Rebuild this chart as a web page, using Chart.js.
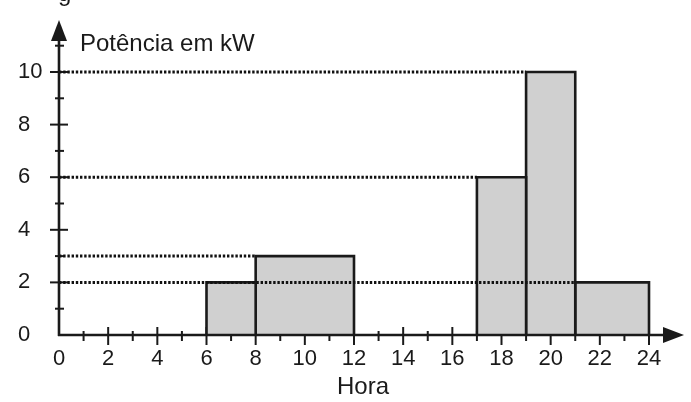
<!DOCTYPE html>
<html>
<head>
<meta charset="utf-8">
<script src="https://cdn.jsdelivr.net/npm/chart.js@4/dist/chart.umd.min.js"></script>
<style>
html,body{margin:0;padding:0;background:#fff;}
#wrap{width:691px;height:402px;position:relative;}
</style>
</head>
<body>
<div id="wrap"><canvas id="c" width="691" height="402"></canvas></div>
<script>
// ---- data ----
const barStarts = [6, 8, 17, 19, 21];
const barEnds   = [8, 12, 19, 21, 24];
const barValues = [2, 3, 6, 10, 2];
const guideLevels = [10, 6, 3, 2];
const guideEnds   = [19, 17, 8, 21];
const xTickValues = [0, 2, 4, 6, 8, 10, 12, 14, 16, 18, 20, 22, 24];
const yTickValues = [0, 2, 4, 6, 8, 10];
const yAxisTitle = 'Potência em kW';
const xAxisTitle = 'Hora';

const FONT = '"Liberation Sans", Arial, sans-serif';
const INK = '#1a1a1a';

const datasets = [];
guideLevels.forEach((lv, i) => {
  datasets.push({
    data: [{x: 0, y: lv}, {x: guideEnds[i], y: lv}],
    borderColor: '#111111', borderWidth: 3, borderDash: [2.4, 1.8],
    pointRadius: 0, fill: false, order: 0, clip: false
  });
});
barValues.forEach((v, i) => {
  datasets.push({
    data: [{x: barStarts[i], y: 0}, {x: barStarts[i], y: v}, {x: barEnds[i], y: v}, {x: barEnds[i], y: 0}],
    borderColor: INK, borderWidth: 2.6, backgroundColor: '#d0d0d0',
    pointRadius: 0, fill: 'origin', tension: 0, order: 1, clip: false
  });
});

const axesPlugin = {
  id: 'axesPlugin',
  beforeDatasetsDraw(chart) {
    const {ctx, scales: {x, y}} = chart;
    const x0 = x.getPixelForValue(0), y0 = y.getPixelForValue(0);
    ctx.save();
    ctx.strokeStyle = INK; ctx.lineWidth = 2;
    for (let v = 1; v <= 24; v++) {
      const px = x.getPixelForValue(v);
      const major = v % 2 === 0;
      ctx.beginPath();
      ctx.moveTo(px, y0 - (major ? 8 : 4));
      ctx.lineTo(px, y0 + (major ? 10 : 6));
      ctx.stroke();
    }
    for (let v = 1; v <= 11; v++) {
      const py = y.getPixelForValue(v);
      const major = v % 2 === 0;
      ctx.beginPath();
      ctx.moveTo(x0 - (major ? 9 : 4), py);
      ctx.lineTo(x0 + (major ? 9 : 5), py);
      ctx.stroke();
    }
    ctx.restore();
  },
  afterDatasetsDraw(chart) {
    const {ctx, scales: {x, y}} = chart;
    const x0 = x.getPixelForValue(0), y0 = y.getPixelForValue(0);
    ctx.save();
    ctx.strokeStyle = INK; ctx.fillStyle = INK; ctx.lineWidth = 2.6;
    ctx.beginPath();
    ctx.moveTo(x0, y0 + 1); ctx.lineTo(x0, 38);
    ctx.moveTo(x0 - 1, y0); ctx.lineTo(666, y0);
    ctx.stroke();
    ctx.beginPath();
    ctx.moveTo(x0, 20); ctx.lineTo(x0 - 8, 41); ctx.lineTo(x0 + 8, 41); ctx.closePath(); ctx.fill();
    ctx.beginPath();
    ctx.moveTo(684, y0); ctx.lineTo(663, y0 - 8); ctx.lineTo(663, y0 + 8); ctx.closePath(); ctx.fill();
    ctx.font = '24px ' + FONT;
    ctx.textBaseline = 'middle';
    ctx.textAlign = 'left';
    ctx.fillText(yAxisTitle, 80, 44);
    ctx.textAlign = 'center';
    ctx.fillText(xAxisTitle, 363, 387);
    ctx.textBaseline = 'alphabetic';
    ctx.textAlign = 'left';
    ctx.fillText('g', 58, 1);
    ctx.restore();
  }
};

new Chart(document.getElementById('c'), {
  type: 'line',
  data: {datasets},
  options: {
    responsive: false,
    animation: false,
    events: [],
    layout: {padding: {left: 18, right: 42, top: 72, bottom: 0}},
    plugins: {legend: {display: false}, tooltip: {enabled: false}, title: {display: false}},
    scales: {
      x: {
        type: 'linear', min: 0, max: 24,
        grid: {display: false, drawTicks: false},
        border: {display: false},
        afterBuildTicks: (s) => { s.ticks = xTickValues.map(v => ({value: v})); },
        afterFit: (s) => { s.height = 67; },
        ticks: {color: INK, padding: 11, font: {size: 22, family: FONT}, maxRotation: 0, autoSkip: false}
      },
      y: {
        type: 'linear', min: 0, max: 10,
        grid: {display: false, drawTicks: false},
        border: {display: false},
        afterBuildTicks: (s) => { s.ticks = yTickValues.map(v => ({value: v})); },
        afterFit: (s) => { s.width = 41; },
        ticks: {color: INK, padding: 12, crossAlign: 'far', font: {size: 22, family: FONT}}
      }
    }
  },
  plugins: [axesPlugin]
});
</script>
</body>
</html>
